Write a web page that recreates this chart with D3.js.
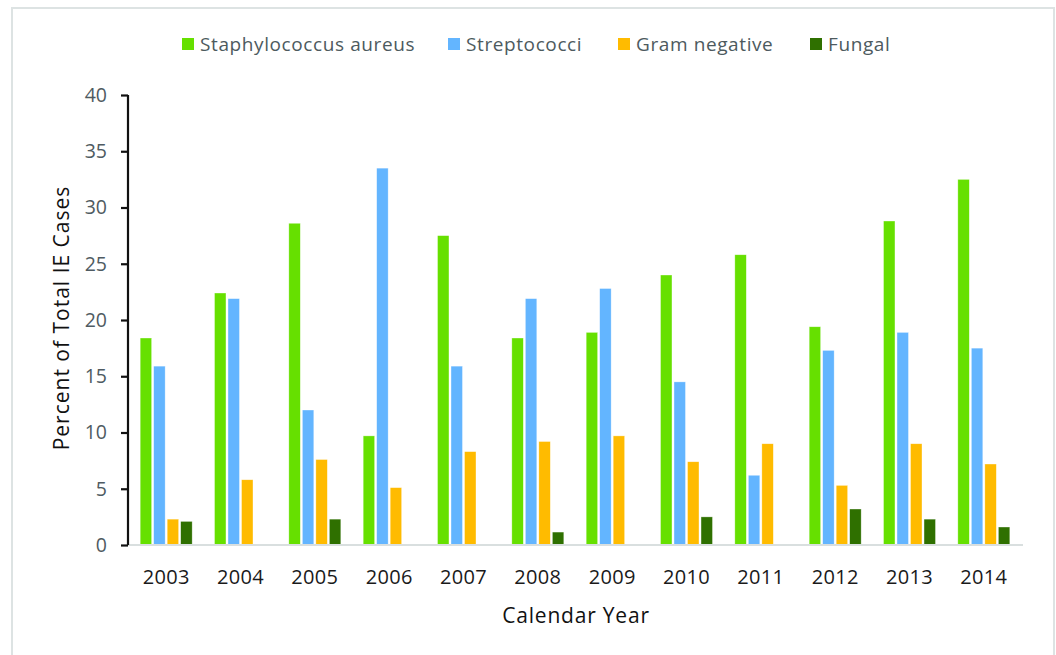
<html>
	<head>
		<meta content="text/html;charset=utf-8" http-equiv="Content-Type">
		<script src="https://d3js.org/d3.v7.min.js"></script>
		<style>
		body { margin: 0; background: #fff; }
		text { font-family: "Open Sans", sans-serif; }
		</style>
	</head>
	<body>
		<svg id="page"></svg>
		<script>

		// data
		var years = ["2003","2004","2005","2006","2007","2008","2009","2010","2011","2012","2013","2014"];
		var seriesNames = ["Staphylococcus aureus", "Streptococci", "Gram negative", "Fungal"];
		var staph  = [18.4, 22.4, 28.6, 9.7, 27.5, 18.4, 18.9, 24.0, 25.8, 19.4, 28.8, 32.5];
		var strep  = [15.9, 21.9, 12.0, 33.5, 15.9, 21.9, 22.8, 14.5, 6.2, 17.3, 18.9, 17.5];
		var gramNeg = [2.3, 5.8, 7.6, 5.1, 8.3, 9.2, 9.7, 7.4, 9.0, 5.3, 9.0, 7.2];
		var fungal = [2.1, 0, 2.3, 0, 0, 1.15, 0, 2.5, 0, 3.2, 2.3, 1.6];
		var yTicks = [0, 5, 10, 15, 20, 25, 30, 35, 40];
		var colors = ["#66e000", "#63b5ff", "#ffbb00", "#2f7000"];

		var allSeries = [staph, strep, gramNeg, fungal];

		// svg canvas
		var svg = d3.select("#page").attr("width", 1056).attr("height", 655);

		// outer frame
		svg.append("rect")
			.attr("x", 12).attr("y", 8)
			.attr("width", 1042).attr("height", 660)
			.attr("fill", "none")
			.attr("stroke", "#dde3e3")
			.attr("stroke-width", 2);

		var x = d3.scaleBand().domain(years).range([129, 1021]);
		var inner = d3.scaleBand().domain(d3.range(4)).range([0, 52]).paddingInner(0.15);
		var y = d3.scaleLinear().domain([0, 40]).range([545, 95]);

		// bars
		for (var s = 0; s < 4; s++) {
			svg.append("g").selectAll("rect")
				.data(allSeries[s])
				.enter().append("rect")
				.attr("x", function(d, i){ return x(years[i]) + x.bandwidth()/2 - 26 + inner(s); })
				.attr("y", function(d){ return y(d); })
				.attr("width", inner.bandwidth())
				.attr("height", function(d){ return y(0) - y(d); })
				.attr("fill", colors[s])
				.attr("stroke", "#ffffff")
				.attr("stroke-width", 0.6)
				.attr("stroke-opacity", 0.6);
		}

		// baseline
		svg.append("line")
			.attr("x1", 128).attr("x2", 1023)
			.attr("y1", y(0)).attr("y2", y(0))
			.attr("stroke", "#d9dfdf")
			.attr("stroke-width", 2);

		// y axis
		var yAxis = svg.append("g")
			.attr("transform", "translate(128,0)")
			.call(d3.axisLeft(y).tickValues(yTicks).tickSize(7).tickPadding(14));
		yAxis.select(".domain").attr("stroke", "#111").attr("stroke-width", 2.2)
			.attr("d", "M0," + y(40) + "V" + y(0));
		yAxis.selectAll(".tick line").attr("stroke", "#111").attr("stroke-width", 2.2);
		yAxis.selectAll(".tick text")
			.style("font-size", "19.5px")
			.attr("fill", "#4f5b62");

		// x axis labels
		var xAxis = svg.append("g")
			.attr("transform", "translate(0," + y(0) + ")")
			.call(d3.axisBottom(x).tickSize(0).tickPadding(25));
		xAxis.select(".domain").remove();
		xAxis.selectAll(".tick text")
			.style("font-size", "20px")
			.style("letter-spacing", "0.3px")
			.attr("fill", "#1a1a1a");

		// axis titles
		svg.append("text")
			.attr("x", 576).attr("y", 623)
			.style("font-size", "21px")
			.style("letter-spacing", "0.8px")
			.style("text-anchor", "middle")
			.attr("fill", "#111")
			.text("Calendar Year");
		svg.append("text")
			.attr("transform", "translate(69,318) rotate(-90)")
			.style("font-size", "21px")
			.style("letter-spacing", "1px")
			.style("text-anchor", "middle")
			.attr("fill", "#111")
			.text("Percent of Total IE Cases");

		// legend
		var legendX = [182, 448, 618, 810];
		var legend = svg.append("g");
		seriesNames.forEach(function(name, i){
			legend.append("rect")
				.attr("x", legendX[i]).attr("y", 38)
				.attr("width", 12).attr("height", 12)
				.attr("fill", colors[i]);
			legend.append("text")
				.attr("x", legendX[i] + 18).attr("y", 51)
				.style("font-size", "19px")
				.style("letter-spacing", "0.6px")
				.attr("fill", "#4d5a5e")
				.text(name);
		});

		</script>
	</body>
</html>
